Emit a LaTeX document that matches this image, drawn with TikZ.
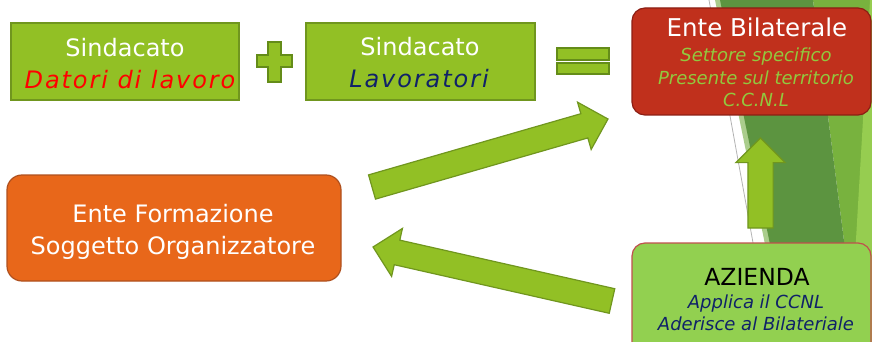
\documentclass[tikz,border=0pt]{standalone}
\usepackage{fontspec}
\setmainfont{DejaVu Sans}
\newfontfamily\spacedfont[LetterSpace=8]{DejaVu Sans}
\usepackage{tikz}
\usetikzlibrary{calc,shapes.arrows}
\definecolor{leaf}{RGB}{146,192,37}
\definecolor{leafline}{RGB}{112,150,30}
\definecolor{signline}{RGB}{100,140,25}
\definecolor{bilred}{RGB}{192,48,28}
\definecolor{billine}{RGB}{140,30,20}
\definecolor{formorange}{RGB}{232,103,26}
\definecolor{formline}{RGB}{175,80,30}
\definecolor{azgreen}{RGB}{146,208,80}
\definecolor{azline}{RGB}{192,80,77}
\definecolor{tagblue}{RGB}{16,34,104}
\definecolor{taggreen}{RGB}{146,200,62}
\definecolor{bgdark}{RGB}{92,148,64}
\definecolor{bgfade}{RGB}{170,205,140}
\definecolor{bgmid}{RGB}{120,178,62}
\definecolor{bglight}{RGB}{150,205,80}
\newcommand{\blockarrow}[3]{\path let \p1=($(#2)-(#1)$) in node[blockarrow, anchor=tail, minimum height={veclen(\x1,\y1)}, rotate={atan2(\y1,\x1)}] (#3) at (#1) {};}
\begin{document}
\begin{tikzpicture}[x=1pt, y=-1pt,
    plainbox/.style={draw=leafline, fill=leaf, line width=1.2pt, minimum width=228pt, minimum height=77pt, inner sep=0pt},
    roundbox/.style={rounded corners=13pt, line width=1.2pt, inner sep=0pt},
    blockarrow/.style={single arrow, draw=leafline, fill=leaf, line width=1.2pt, inner sep=0pt, outer sep=0pt, text height=24pt, text depth=0pt, single arrow head extend=12pt, single arrow tip angle=90},
    sign/.style={draw=signline, fill=leaf, line width=1.2pt},
    bigtext/.style={anchor=base, inner sep=0pt, font=\fontsize{24}{28}\selectfont},
    bigtag/.style={anchor=base, inner sep=0pt, font=\spacedfont\itshape\fontsize{24}{28}\selectfont},
    smalltag/.style={anchor=base, inner sep=0pt, font=\itshape\fontsize{18}{22}\selectfont}]
  \useasboundingbox (0,0) rectangle (872,342);
  \clip (0,0) rectangle (872,342);
  % background
  \fill[bgmid] (813,0) -- (872,0) -- (872,342) -- (857,342) -- cycle;
  \fill[bglight] (870,0) -- (872,0) -- (872,342) -- (850,342) -- cycle;
  \fill[bgfade] (715,0) -- (722,0) -- (792,342) -- (785,342) -- cycle;
  \fill[bgdark] (720,0) -- (813,0) -- (857,342) -- (790,342) -- cycle;
  \draw[gray!60, line width=0.8pt] (709,0) -- (771,342);
  % boxes
  \node[plainbox] (datori) at (125,61.5) {};
  \node[plainbox, minimum width=229pt] (lavoratori) at (420.5,61.5) {};
  \node[roundbox, draw=billine, fill=bilred, minimum width=239pt, minimum height=107pt] (bilaterale) at (751.5,61.5) {};
  \node[roundbox, rounded corners=15pt, draw=formline, fill=formorange, minimum width=334pt, minimum height=106pt] (formazione) at (174,228) {};
  \node[roundbox, draw=azline, fill=azgreen, minimum width=239pt, minimum height=115pt] (azienda) at (751.5,300.5) {};
  % texts
  \node[bigtext, text=white] (datori1) at (125,56.5) {Sindacato};
  \node[bigtag, text=red] (datori2) at (130,88.3) {Datori di lavoro};
  \node[bigtext, text=white] (lavoratori1) at (420,56) {Sindacato};
  \node[bigtag, text=tagblue] (lavoratori2) at (419,87.5) {Lavoratori};
  \node[bigtext, text=white, font=\fontsize{24.5}{28}\selectfont] (bilaterale1) at (757,36.7) {Ente Bilaterale};
  \node[smalltag, text=taggreen] (bilaterale2) at (756,61.7) {Settore specifico};
  \node[smalltag, text=taggreen] (bilaterale3) at (756,85) {Presente sul territorio};
  \node[smalltag, text=taggreen] (bilaterale4) at (756,106.7) {C.C.N.L};
  \node[bigtext, text=white] (formazione1) at (173,222.7) {Ente Formazione};
  \node[bigtext, text=white] (formazione2) at (173,254) {Soggetto Organizzatore};
  \node[bigtext, text=black, font=\fontsize{23.5}{28}\selectfont] (azienda1) at (757,285) {AZIENDA};
  \node[smalltag, text=tagblue] (azienda2) at (756,308) {Applica il CCNL};
  \node[smalltag, text=tagblue] (azienda3) at (756,330) {Aderisce al Bilateriale};
  % plus and equals
  \draw[sign] (268,42) -- (281,42) -- (281,55) -- (292,55) -- (292,67) -- (281,67) -- (281,82) -- (268,82) -- (268,67) -- (257,67) -- (257,55) -- (268,55) -- cycle;
  \draw[sign] (557,48) rectangle (609,60);
  \draw[sign] (557,63) rectangle (609,74);
  % arrows
  \coordinate (riseTail) at (372,187);
  \coordinate (riseTip) at (608,119);
  \coordinate (backTail) at (612,301);
  \coordinate (backTip) at (373,247);
  \coordinate (upTail) at (760.5,228);
  \coordinate (upTip) at (760.5,138);
  \blockarrow{riseTail}{riseTip}{rise}
  \blockarrow{backTail}{backTip}{back}
  \blockarrow{upTail}{upTip}{up}
\end{tikzpicture}
\end{document}
